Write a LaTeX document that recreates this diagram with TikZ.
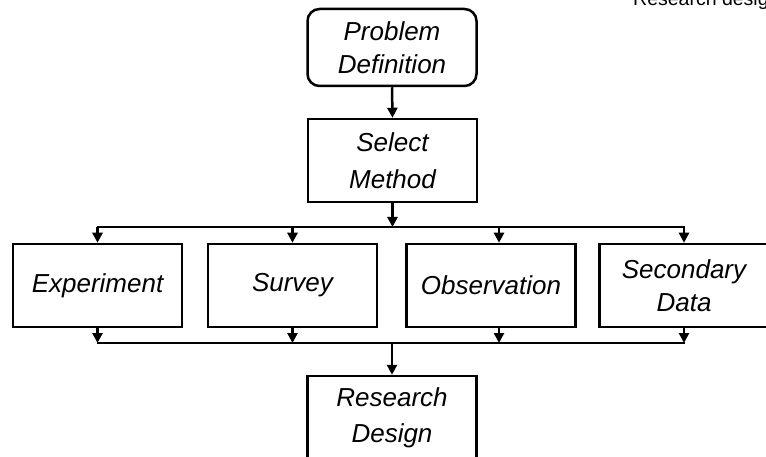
\documentclass[tikz,border=0pt]{standalone}
\usepackage{fontspec}
\setmainfont{Liberation Sans}
\usetikzlibrary{arrows.meta}
\begin{document}
\begin{tikzpicture}[x=1pt,y=-1pt,
  box/.style={draw, line width=2.5pt, minimum width=169pt, minimum height=83pt,
    inner sep=0pt, align=center, font=\fontsize{26}{33}\selectfont\itshape},
  link/.style={line width=2.5pt},
  arr/.style={link, -{Triangle[length=10pt,width=10pt]}}]
\useasboundingbox (0,0) rectangle (766,457);
\clip (0,0) rectangle (766,457);

% heading
\node[anchor=base west, inner sep=0pt, font=\fontsize{19.5}{22}\selectfont] (title) at (633,6) {Research design};

% process boxes
\node[box, rounded corners=12pt, minimum height=77pt] (pd) at (392,47.5) {Problem\\Definition};
\node[box, font=\fontsize{26}{37}\selectfont\itshape] (sm) at (392.5,160.5) {Select\\Method};
\node[box] (exp) at (97.5,285.5) {Experiment};
\node[box] (sur) at (292.5,285.5) {Survey};
\node[box] (obs) at (491,285.5) {Observation};
\node[box] (sec) at (684,285.5) {Secondary\\Data};
\node[box, font=\fontsize{26}{36}\selectfont\itshape] (rd) at (392,417.5) {Research\\Design};

% upper distribution bus
\coordinate (tl) at (97,227);
\coordinate (tr) at (685,227);
\draw[arr] (pd.south) -- (sm.north);
\draw[arr] (sm.south) -- (sm.south |- tl);
\draw[link] (tl) -- (tr);
\draw[arr] (exp.north |- tl) -- (exp.north);
\draw[arr] (sur.north |- tl) -- (sur.north);
\draw[arr] ([xshift=8pt]obs.north |- tl) -- ([xshift=8pt]obs.north);
\draw[arr] (sec.north |- tl) -- (sec.north);

% lower collecting bus
\coordinate (bl) at (97,343);
\coordinate (br) at (685,343);
\draw[link] (bl) -- (br);
\draw[arr] (exp.south) -- (exp.south |- bl);
\draw[arr] (sur.south) -- (sur.south |- bl);
\draw[arr] ([xshift=8pt]obs.south) -- ([xshift=8pt]obs.south |- bl);
\draw[arr] (sec.south) -- (sec.south |- bl);
\draw[arr] (rd.north |- bl) -- (rd.north);
\end{tikzpicture}
\end{document}
